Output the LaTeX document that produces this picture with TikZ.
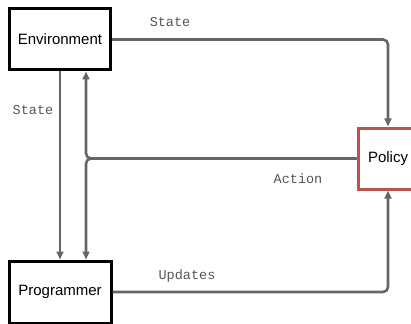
\documentclass[tikz,border=0pt]{standalone}
\usepackage{fontspec}
\setmainfont{Liberation Sans}
\newfontfamily\labelmono{Liberation Mono}
\usetikzlibrary{arrows.meta,calc}
\definecolor{wiregray}{HTML}{666666}
\definecolor{policyred}{HTML}{B85450}
\definecolor{labelgray}{HTML}{555555}
\begin{document}
\begin{tikzpicture}[x=1pt,y=-1pt,
  box/.style={draw=black,line width=3pt,fill=white,inner sep=0pt,
    font=\fontsize{15}{18}\selectfont},
  wire/.style={draw=wiregray,line width=2.6pt,rounded corners=5pt,
    -{Triangle[length=8pt,width=7pt]}},
  lbl/.style={text=labelgray,inner sep=0pt,
    font=\labelmono\fontsize{13.5}{16}\selectfont}]
  \useasboundingbox (0,0) rectangle (411,323);
  \clip (0,0) rectangle (411,323);

  % boxes
  \node[box,minimum width=101pt,minimum height=61pt] (env) at (60,39.5) {Environment};
  \node[box,draw=policyred,minimum width=60pt,minimum height=61pt] (pol) at (388,158.5) {Policy};
  \node[box,minimum width=102pt,minimum height=62pt] (prog) at (60,292) {Programmer};

  % branching point of the action wire
  \coordinate (split) at (86,158.5);

  % connectors
  \draw[wire] (env.east) -| (pol.north);
  \draw[wire] (env.south) -- (env.south |- prog.north);
  \draw[wire] (pol.west) -| (split |- env.south);
  \draw[wire] (pol.west) -| (split |- prog.north);
  \draw[wire] (prog.east) -| (pol.south);

  % labels
  \node[lbl] (lstateA) at (170,22.5) {State};
  \node[lbl] (lstateB) at (33,110) {State};
  \node[lbl] (laction) at (298,179) {Action};
  \node[lbl] (lupdates) at (187,276) {Updates};
\end{tikzpicture}
\end{document}
